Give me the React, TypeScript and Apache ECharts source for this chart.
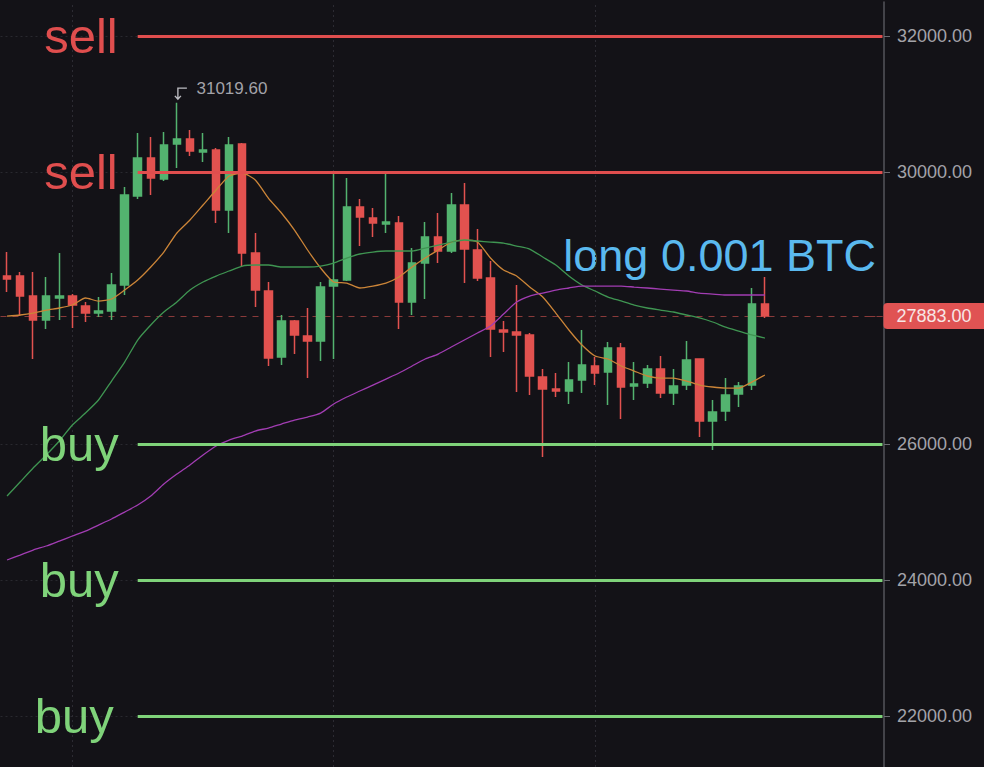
import { useEffect, useRef } from 'react';
import * as echarts from 'echarts';

const FONT = "'Liberation Sans', Arial, sans-serif";

// 68 slots: 59 candles + empty space on the right
const categories: string[] = [];
for (let i = 0; i < 68; i++) categories.push('c' + i);

// [open, close, low, high]
const candles: number[][] = [
  [28470, 28426, 28235, 28823], [28470, 28176, 27882, 28529], [28176, 27823, 27250, 28529],
  [27823, 28176, 27691, 28455], [28147, 28176, 27823, 28808], [28176, 28044, 27705, 28205],
  [28029, 27926, 27794, 28088], [27926, 27955, 27867, 28161], [27955, 28338, 27823, 28514],
  [28338, 29661, 28191, 29779], [29647, 30206, 29603, 30573], [30206, 29911, 29661, 30514],
  [29897, 30397, 29867, 30588], [30411, 30485, 30058, 31019.6], [30485, 30308, 30235, 30617],
  [30294, 30323, 30147, 30573], [30323, 29441, 29250, 30353], [29441, 30397, 29103, 30514],
  [30411, 28808, 28603, 30426], [28808, 28264, 28014, 29103], [28250, 27264, 27147, 28382],
  [27279, 27808, 27161, 27897], [27808, 27603, 27323, 27823], [27588, 27514, 26970, 28000],
  [27514, 28308, 27220, 28382], [28323, 28411, 27250, 30000], [28411, 29485, 28397, 29911],
  [29485, 29338, 28911, 29603], [29323, 29250, 29044, 29470], [29235, 29264, 29103, 29985],
  [29250, 28088, 27691, 29353], [28088, 28661, 27897, 28882], [28661, 29044, 28132, 29264],
  [29044, 28838, 28661, 29397], [28838, 29514, 28808, 29691], [29514, 28867, 28367, 29838],
  [28853, 28441, 28397, 29161], [28441, 27691, 27279, 28691], [27676, 27647, 27353, 27808],
  [27647, 27603, 26764, 28338], [27603, 27000, 26720, 27632], [26985, 26808, 25808, 27103],
  [26808, 26779, 26691, 27044], [26779, 26941, 26588, 27205], [26941, 27161, 26750, 27676],
  [27147, 27044, 26867, 27279], [27058, 27411, 26573, 27500], [27411, 26838, 26367, 27485],
  [26853, 26882, 26647, 27205], [26897, 27103, 26823, 27161], [27103, 26750, 26676, 27294],
  [26750, 26853, 26573, 27103], [26867, 27235, 26794, 27514], [27250, 26338, 26103, 27260],
  [26338, 26470, 25911, 26647], [26485, 26720, 26338, 26970], [26735, 26853, 26544, 26911],
  [26867, 28058, 26794, 28294], [28058, 27883, 27853, 28455],
];

const maShort = [
  27882, 27897, 27926, 27970, 28000, 28044, 28147, 28102, 28132, 28264,
  28411, 28603, 28823, 29103, 29294, 29514, 29735, 29941, 29985, 29882,
  29617, 29397, 29147, 28853, 28588, 28382, 28367, 28294, 28323, 28367,
  28455, 28603, 28735, 28853, 28970, 29000, 28970, 28735, 28558, 28470,
  28308, 28161, 27926, 27676, 27455, 27294, 27250, 27147, 27073, 27000,
  26970, 26970, 26926, 26867, 26838, 26823, 26823, 26911, 27014,
];

const maMid = [
  25235, 25441, 25647, 25838, 26044, 26279, 26455, 26647, 26926, 27205,
  27529, 27750, 27941, 28088, 28264, 28382, 28470, 28544, 28617, 28632,
  28632, 28603, 28603, 28603, 28617, 28661, 28735, 28794, 28823, 28838,
  28838, 28838, 28882, 28926, 28970, 29000, 28985, 28970, 28955, 28911,
  28867, 28750, 28632, 28470, 28338, 28250, 28161, 28103, 28044, 28000,
  27970, 27941, 27897, 27853, 27794, 27720, 27661, 27603, 27558,
];

const maLong = [
  24294, 24367, 24441, 24500, 24573, 24647, 24720, 24808, 24897, 24999,
  25102, 25235, 25411, 25558, 25691, 25838, 25970, 26058, 26117, 26191,
  26235, 26294, 26352, 26397, 26455, 26588, 26691, 26779, 26867, 26955,
  27044, 27147, 27250, 27323, 27426, 27529, 27632, 27735, 27911, 28088,
  28176, 28220, 28264, 28294, 28323, 28323, 28323, 28323, 28308, 28294,
  28279, 28264, 28250, 28220, 28205, 28191, 28191, 28191, 28191,
];

const sellLevels = [32000, 30000];
const buyLevels = [26000, 24000, 22000];
const buyLabelGaps = [19, 19, 24];
const axisValues = [22000, 24000, 26000, 30000, 32000];
const gridCategories = ['c5', 'c25', 'c45'];
const lastPrice = 27883;
const highIndex = 13;
const highValue = 31019.6;
const positionText = 'long 0.001 BTC';

const RED = '#e2524f';
const GREEN = '#53b36f';
const SELL = '#e04e4e';
const BUY = '#7fd37a';
const LINE_START = 10;
const LINE_END = 67;

export default function App() {
  const ref = useRef<HTMLDivElement>(null);

  useEffect(() => {
    if (!ref.current) return;
    const chart = echarts.init(ref.current, undefined, { renderer: 'svg' });

    const levelItem = (v: number, text: string, color: string, gap: number) => [
      {
        coord: [LINE_START, v],
        lineStyle: { color, width: 3, type: 'solid' },
        label: {
          show: true, position: 'start', formatter: text, color,
          fontSize: 49, fontFamily: FONT, distance: gap,
        },
      },
      { coord: [LINE_END, v] },
    ];

    // background lines (behind candles)
    const backData: any[] = [];
    gridCategories.forEach((c) => {
      backData.push({
        xAxis: c,
        lineStyle: { color: '#2c2b33', width: 1, type: [2, 3] },
        label: { show: false },
      });
    });
    backData.push({
      yAxis: lastPrice,
      lineStyle: { color: '#8a3a3a', width: 1.2, type: [6, 6] },
      label: { show: false },
    });
    backData.push([
      {
        coord: [LINE_END - 1, lastPrice],
        lineStyle: { color: '#8a3a3a', width: 1.2, type: [6, 6] },
        label: {
          show: true, position: 'end', formatter: lastPrice.toFixed(2),
          backgroundColor: '#e05353', color: '#f7e6e6', fontSize: 18, fontFamily: FONT,
          padding: [4, 16, 4, 13], borderRadius: 4, distance: 1,
        },
      },
      { coord: [LINE_END, lastPrice] },
    ]);

    // level lines (above candles)
    const levelData: any[] = [];
    sellLevels.forEach((v) => levelData.push(levelItem(v, 'sell', SELL, 20)));
    buyLevels.forEach((v, i) => levelData.push(levelItem(v, 'buy', BUY, buyLabelGaps[i])));

    chart.setOption({
      animation: false,
      backgroundColor: '#131217',
      textStyle: { fontFamily: FONT },
      grid: { left: 0.5, right: 95, top: 2, bottom: 0 },
      xAxis: {
        type: 'category', data: categories, boundaryGap: true, show: false,
      },
      yAxis: {
        type: 'value', position: 'right', min: 21250, max: 32500, offset: -5,
        axisLine: { show: true, lineStyle: { color: '#55545b', width: 1.5 } },
        axisTick: {
          show: true, length: 6, customValues: axisValues,
          lineStyle: { color: '#6c6b72' },
        },
        axisLabel: {
          show: true, customValues: axisValues, color: '#a3a3a9', fontSize: 18,
          fontFamily: FONT, margin: 13, formatter: (v: number) => v.toFixed(2),
        },
        splitLine: { show: true, lineStyle: { color: '#29282f', type: [2, 3] } },
      },
      graphic: [
        {
          type: 'text', right: 108, top: 233,
          style: { text: positionText, fill: '#5ab9ef', font: `45px ${FONT}` },
        },
      ],
      series: [
        {
          type: 'line', data: [], z: 1, silent: true,
          markLine: {
            z: 1,
            silent: true, symbol: ['none', 'none'], animation: false,
            label: { show: false },
            data: backData,
          },
        },
        {
          type: 'candlestick',
          data: candles,
          barWidth: 8,
          z: 2,
          itemStyle: {
            color: GREEN, color0: RED, borderColor: GREEN, borderColor0: RED, borderWidth: 1.5,
          },
          markPoint: {
            silent: true,
            symbol: 'path://M12,1 L3,1 L3,11 M0,8 L3,11 L6,8',
            symbolSize: [12, 11],
            symbolOffset: [4, -9],
            itemStyle: { color: 'none', borderColor: '#bdbdc3', borderWidth: 1.3 },
            label: {
              show: true, position: 'right', distance: 7, offset: [0, -5],
              color: '#a3a3a9', fontSize: 17, fontFamily: FONT,
              formatter: highValue.toFixed(2),
            },
            data: [{ coord: [highIndex, highValue], value: highValue }],
          },
        },
        {
          type: 'line', data: maShort, showSymbol: false, smooth: 0.2, z: 3,
          lineStyle: { color: '#cc8538', width: 1.3 }, silent: true,
        },
        {
          type: 'line', data: maMid, showSymbol: false, smooth: 0.2, z: 3,
          lineStyle: { color: '#3f9552', width: 1.3 }, silent: true,
        },
        {
          type: 'line', data: maLong, showSymbol: false, smooth: 0.2, z: 3,
          lineStyle: { color: '#a23db3', width: 1.3 }, silent: true,
        },
        {
          type: 'line', data: [], z: 4, silent: true,
          markLine: {
            z: 5,
            silent: true, symbol: ['none', 'none'], animation: false,
            label: { show: false },
            data: levelData,
          },
        },
      ],
    });

    return () => chart.dispose();
  }, []);

  return (
    <div
      ref={ref}
      style={{ position: 'absolute', left: 0, top: 0, width: 984, height: 767 }}
    />
  );
}
